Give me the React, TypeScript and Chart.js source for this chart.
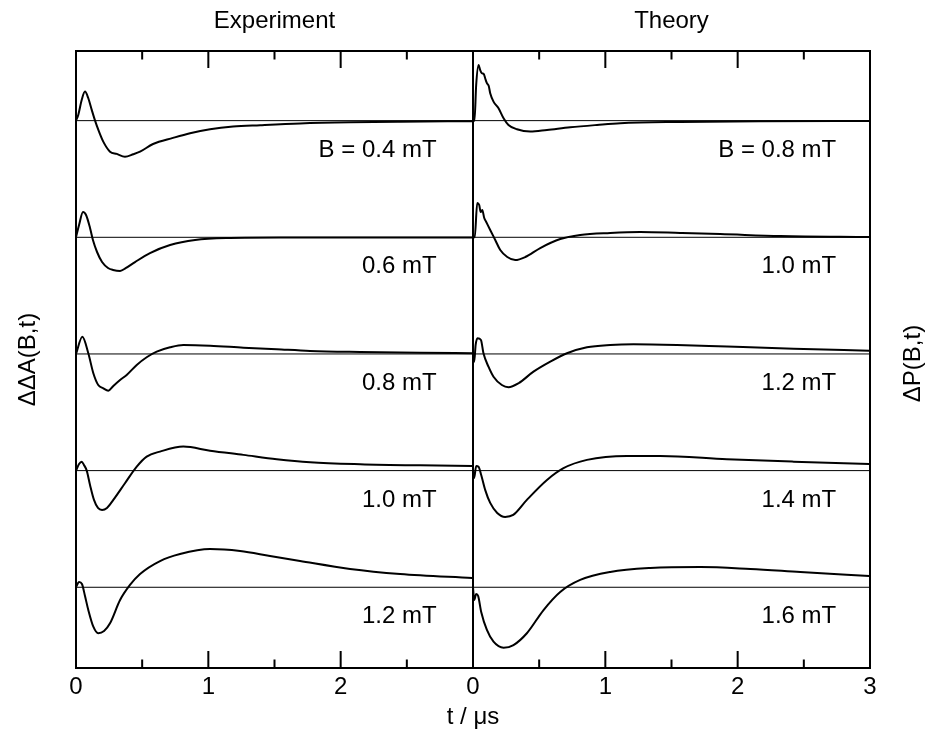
import { useEffect, useRef } from "react";
import { Chart, registerables } from "chart.js";

Chart.register(...registerables);

const FONT = '"Liberation Sans", Arial, Helvetica, sans-serif';

const panelTitles = ["Experiment", "Theory"];
const xAxisTitle = "t / μs";
const yTitleLeft = "ΔΔA(B,t)";
const yTitleRight = "ΔP(B,t)";
const expLabels = ["B = 0.4 mT", "0.6 mT", "0.8 mT", "1.0 mT", "1.2 mT"];
const theoryLabels = ["B = 0.8 mT", "1.0 mT", "1.2 mT", "1.4 mT", "1.6 mT"];
const offsets = [4, 3, 2, 1, 0];
const panelSpan = 3;
const majorTicks = [0, 1, 2, 3];
const minorTicks = [0.5, 1.5, 2.5];
const labelT = [2.725, 2.745];
const labelDrop = 0.31;

// [t (µs), signal] — experiment
const exp04: number[][] = [
  [0, 0], [0.017, 0.049], [0.043, 0.177], [0.068, 0.249], [0.093, 0.192], [0.119, 0.092],
  [0.144, 0], [0.169, -0.08], [0.206, -0.18], [0.257, -0.266], [0.308, -0.285], [0.37, -0.309],
  [0.433, -0.288], [0.484, -0.266], [0.582, -0.2], [0.733, -0.148], [0.862, -0.108],
  [1.013, -0.074], [1.187, -0.051], [1.391, -0.039], [1.693, -0.024], [2.071, -0.014],
  [2.449, -0.009], [2.993, -0.005],
];
const exp06: number[][] = [
  [0, 0], [0.023, 0.105], [0.053, 0.217], [0.076, 0.191], [0.106, 0.08], [0.128, -0.023],
  [0.159, -0.126], [0.197, -0.212], [0.242, -0.263], [0.28, -0.28], [0.333, -0.289],
  [0.378, -0.263], [0.446, -0.212], [0.559, -0.135], [0.711, -0.066], [0.9, -0.023],
  [1.164, -0.006], [1.542, -0.002], [2.993, -0.002],
];
const exp08: number[][] = [
  [0, 0], [0.048, 0.148], [0.093, 0.006], [0.131, -0.165], [0.168, -0.266], [0.206, -0.294],
  [0.244, -0.315], [0.282, -0.274], [0.333, -0.223], [0.383, -0.18], [0.459, -0.094],
  [0.534, -0.028], [0.61, 0.02], [0.711, 0.057], [0.811, 0.077], [1.013, 0.071],
  [1.265, 0.054], [1.517, 0.04], [1.769, 0.026], [2.147, 0.017], [2.6, 0.01], [2.993, 0.007],
];
const exp10: number[][] = [
  [0, 0], [0.023, 0.057], [0.043, 0.077], [0.06, 0.049], [0.081, 0], [0.106, -0.123],
  [0.136, -0.251], [0.166, -0.32], [0.197, -0.337], [0.234, -0.32], [0.282, -0.251],
  [0.37, -0.108], [0.459, 0.034], [0.534, 0.12], [0.635, 0.163], [0.811, 0.206],
  [1.013, 0.171], [1.265, 0.135], [1.517, 0.098], [1.769, 0.072], [2.147, 0.055],
  [2.6, 0.045], [2.993, 0.04],
];
const exp12: number[][] = [
  [0, 0], [0.023, 0.045], [0.045, 0.028], [0.068, -0.075], [0.093, -0.195], [0.131, -0.338],
  [0.168, -0.394], [0.212, -0.375], [0.257, -0.309], [0.333, -0.109], [0.408, 0.02],
  [0.484, 0.114], [0.635, 0.225], [0.786, 0.285], [1.013, 0.328], [1.24, 0.311],
  [1.466, 0.268], [1.693, 0.225], [2.071, 0.157], [2.449, 0.114], [2.993, 0.08],
];

// [t (µs), signal] — theory
const th08: number[][] = [
  [0, 0], [0.011, 0], [0.024, 0.306], [0.042, 0.477], [0.054, 0.435], [0.067, 0.406],
  [0.081, 0.4], [0.092, 0.363], [0.105, 0.321], [0.119, 0.297], [0.13, 0.235], [0.155, 0.163],
  [0.193, 0.106], [0.231, 0.021], [0.268, -0.037], [0.332, -0.074], [0.432, -0.094],
  [0.559, -0.08], [0.735, -0.057], [0.937, -0.037], [1.113, -0.022], [1.566, -0.011],
  [2.171, -0.005], [2.995, -0.003],
];
const th10: number[][] = [
  [0, 0], [0.013, 0], [0.032, 0.294], [0.047, 0.277], [0.058, 0.217], [0.07, 0.234],
  [0.085, 0.165], [0.1, 0.131], [0.13, 0.063], [0.168, -0.023], [0.206, -0.109],
  [0.259, -0.169], [0.319, -0.195], [0.395, -0.169], [0.508, -0.092], [0.659, -0.015],
  [0.81, 0.02], [1.037, 0.037], [1.264, 0.045], [1.566, 0.037], [1.868, 0.028],
  [2.322, 0.011], [2.995, 0.003],
];
const th12: number[][] = [
  [0, 0], [0.009, -0.066], [0.02, 0.077], [0.034, 0.135], [0.06, 0.12], [0.079, 0.006],
  [0.117, -0.109], [0.155, -0.195], [0.218, -0.266], [0.268, -0.285], [0.344, -0.251],
  [0.457, -0.152], [0.584, -0.066], [0.71, 0.006], [0.861, 0.057], [1.037, 0.077],
  [1.213, 0.083], [1.541, 0.077], [1.919, 0.063], [2.423, 0.045], [2.995, 0.028],
];
const th14: number[][] = [
  [0, 0], [0.009, -0.063], [0.024, 0.04], [0.042, 0.034], [0.062, -0.037], [0.092, -0.165],
  [0.13, -0.277], [0.183, -0.363], [0.243, -0.397], [0.304, -0.38], [0.407, -0.251],
  [0.559, -0.08], [0.684, 0.021], [0.861, 0.092], [1.163, 0.126], [1.415, 0.126],
  [1.919, 0.098], [2.423, 0.077], [2.995, 0.057],
];
const th16: number[][] = [
  [0, 0], [0.009, -0.109], [0.024, -0.057], [0.039, -0.075], [0.062, -0.212], [0.105, -0.366],
  [0.155, -0.466], [0.231, -0.518], [0.306, -0.495], [0.407, -0.394], [0.533, -0.195],
  [0.659, -0.04], [0.81, 0.063], [1.037, 0.131], [1.34, 0.165], [1.718, 0.174],
  [2.096, 0.157], [2.474, 0.131], [2.995, 0.097],
];

const expSeries = [exp04, exp06, exp08, exp10, exp12];
const theorySeries = [th08, th10, th12, th14, th16];

export default function App() {
  const ref = useRef<HTMLCanvasElement | null>(null);

  useEffect(() => {
    document.body.style.margin = "0";
    const canvas = ref.current;
    if (!canvas) return;

    const datasets: any[] = [];
    offsets.forEach((off) => {
      datasets.push({
        data: [{ x: 0, y: off }, { x: 2 * panelSpan, y: off }],
        borderColor: "#000",
        borderWidth: 1,
        pointRadius: 0,
        tension: 0,
      });
    });
    const addSeries = (series: number[][][], shift: number) => {
      series.forEach((s, i) => {
        datasets.push({
          data: s.map(([t, v]) => ({ x: t + shift, y: v + offsets[i] })),
          borderColor: "#000",
          borderWidth: 2,
          pointRadius: 0,
          cubicInterpolationMode: "monotone",
          borderJoinStyle: "round",
        });
      });
    };
    addSeries(expSeries, 0);
    addSeries(theorySeries, panelSpan);

    const decor = {
      id: "decor",
      afterDraw(chart: any) {
        const { ctx, chartArea: a, scales } = chart;
        const xs = scales.x;
        const ys = scales.y;
        ctx.save();
        ctx.strokeStyle = "#000";
        ctx.fillStyle = "#000";
        ctx.lineWidth = 2;
        ctx.strokeRect(a.left, a.top, a.right - a.left, a.bottom - a.top);
        const xd = xs.getPixelForValue(panelSpan);
        ctx.beginPath();
        ctx.moveTo(xd, a.top);
        ctx.lineTo(xd, a.bottom);
        ctx.stroke();

        ctx.font = `24px ${FONT}`;
        for (let p = 0; p < 2; p++) {
          const base = p * panelSpan;
          const drawTick = (v: number, len: number) => {
            const px = xs.getPixelForValue(base + v);
            ctx.beginPath();
            ctx.moveTo(px, a.bottom);
            ctx.lineTo(px, a.bottom - len);
            ctx.moveTo(px, a.top);
            ctx.lineTo(px, a.top + len);
            ctx.stroke();
          };
          majorTicks.forEach((m) => drawTick(m, 17));
          minorTicks.forEach((m) => drawTick(m, 8.5));
          ctx.textAlign = "center";
          ctx.textBaseline = "alphabetic";
          majorTicks.forEach((m) => {
            if (p === 0 && m === panelSpan) return;
            ctx.fillText(String(m), xs.getPixelForValue(base + m), a.bottom + 26);
          });
          const cx = (xs.getPixelForValue(base) + xs.getPixelForValue(base + panelSpan)) / 2;
          ctx.fillText(panelTitles[p], cx, 28);
          const labels = p === 0 ? expLabels : theoryLabels;
          ctx.textAlign = "right";
          labels.forEach((lab, i) => {
            ctx.fillText(
              lab,
              xs.getPixelForValue(base + labelT[p]),
              ys.getPixelForValue(offsets[i] - labelDrop)
            );
          });
        }
        ctx.textAlign = "center";
        ctx.fillText(xAxisTitle, xd, a.bottom + 56);

        ctx.save();
        ctx.translate(35, (a.top + a.bottom) / 2);
        ctx.rotate(-Math.PI / 2);
        ctx.fillText(yTitleLeft, 0, 0);
        ctx.restore();
        ctx.save();
        ctx.translate(920, (a.top + a.bottom) / 2 + 4);
        ctx.rotate(-Math.PI / 2);
        ctx.fillText(yTitleRight, 0, 0);
        ctx.restore();
        ctx.restore();
      },
    };

    const chart = new Chart(canvas, {
      type: "line",
      data: { datasets },
      options: {
        animation: false,
        responsive: false,
        devicePixelRatio: 1,
        layout: { padding: { left: 76, right: 55, top: 51, bottom: 61 } },
        plugins: { legend: { display: false }, tooltip: { enabled: false } },
        scales: {
          x: { type: "linear", min: 0, max: 2 * panelSpan, display: false },
          y: { type: "linear", min: -0.692, max: 4.597, display: false },
        },
      },
      plugins: [decor],
    });
    return () => chart.destroy();
  }, []);

  return (
    <div style={{ position: "absolute", left: 0, top: 0, width: 925, height: 729, background: "#fff" }}>
      <canvas ref={ref} width={925} height={729} />
    </div>
  );
}
